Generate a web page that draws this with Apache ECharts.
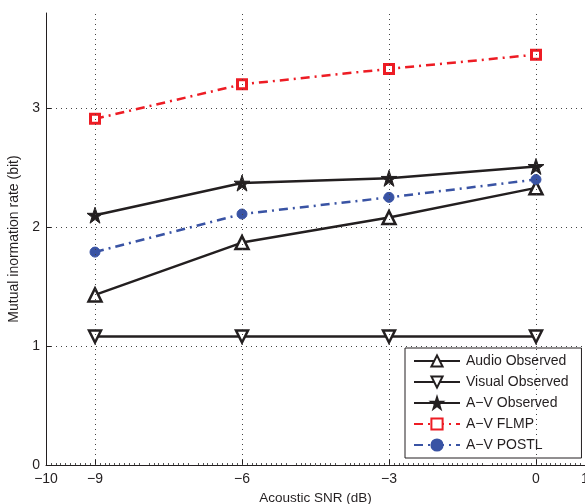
<!DOCTYPE html>
<html>
<head>
<meta charset="utf-8">
<script src="https://cdn.jsdelivr.net/npm/echarts@6/dist/echarts.min.js"></script>
<style>
html, body { margin: 0; padding: 0; background: #fff; }
#chart { width: 585px; height: 504px; }
</style>
</head>
<body>
<div id="chart"></div>
<script>
// data
var snr = [-9, -6, -3, 0];
var audioObs = [1.43, 1.87, 2.08, 2.33];
var visualObs = [1.08, 1.08, 1.08, 1.08];
var avObs = [2.10, 2.37, 2.41, 2.51];
var avFlmp = [2.91, 3.20, 3.33, 3.45];
var avPostl = [1.79, 2.11, 2.25, 2.40];
var xTicks = [-10, -9, -6, -3, 0, 1];
var xGrid = [-9, -6, -3, 0];
var yTicks = [0, 1, 2, 3];

var black = '#231f20';
var red = '#ed1c24';
var blue = '#3953a4';
var star = 'path://M50,0 L61.8,35.1 L98.9,35.1 L68.9,56.7 L80.2,91.9 L50,70.1 L19.8,91.9 L31.1,56.7 L1.1,35.1 L38.2,35.1 Z';

function pts(arr) {
     var out = [];
     for (var i = 0; i < snr.length; i++) {
          out.push([snr[i], arr[i]]);
     }
     return out;
}
function minus(v) {
     return String(v).replace('-', '\u2212');
}

var chart = echarts.init(document.getElementById('chart'));
var font = 'Liberation Sans, Arial, sans-serif';
var dotted = { color: '#444', type: [1, 4], width: 1 };

// vertical grid lines only at the labelled SNR values
var vLines = [];
for (var k = 0; k < xGrid.length; k++) {
     vLines.push({ xAxis: xGrid[k] });
}

var option = {
     animation: false,
     grid: { left: 46, right: 0, top: 13, bottom: 39, containLabel: false, outerBoundsMode: 'none' },
     legend: {
          orient: 'vertical',
          left: 405,
          top: 348,
          padding: [6, 13, 6, 8],
          itemGap: 7,
          itemWidth: 46,
          itemHeight: 14,
          borderColor: black,
          borderWidth: 1,
          backgroundColor: '#fff',
          textStyle: { fontFamily: font, fontSize: 14, color: black, padding: [0, 0, 0, 1] },
          data: ['Audio Observed', 'Visual Observed', 'A\u2212V Observed', 'A\u2212V FLMP', 'A\u2212V POSTL']
     },
     xAxis: {
          type: 'value',
          min: -10,
          max: 1,
          interval: 1,
          name: 'Acoustic SNR (dB)',
          nameLocation: 'middle',
          nameGap: 19,
          nameTextStyle: { fontFamily: font, fontSize: 13.5, color: black },
          axisLine: { onZero: false, lineStyle: { color: black, width: 1 } },
          axisTick: { inside: true, length: 5, customValues: xTicks, lineStyle: { color: black } },
          minorTick: { show: true, splitNumber: 10, length: 2, lineStyle: { color: '#555' } },
          axisLabel: {
               customValues: xTicks,
               fontFamily: font, fontSize: 14, color: black, margin: 7,
               formatter: function (v) { return minus(v); }
          },
          splitLine: { show: false }
     },
     yAxis: {
          type: 'value',
          min: 0,
          max: 3.8,
          interval: 1,
          name: 'Mutual inormation rate (bit)',
          nameLocation: 'middle',
          nameGap: 22,
          nameTextStyle: { fontFamily: font, fontSize: 14, color: black },
          axisLine: { show: true, onZero: false, lineStyle: { color: black, width: 1 } },
          axisTick: { show: true, inside: true, length: 5, customValues: yTicks, lineStyle: { color: black } },
          axisLabel: { customValues: yTicks, fontFamily: font, fontSize: 14, color: black, margin: 6 },
          splitLine: { show: true, lineStyle: dotted }
     },
     series: [
          {
               name: 'grid', type: 'line', data: [], z: 0, silent: true,
               markLine: {
                    silent: true, symbol: 'none', label: { show: false },
                    lineStyle: dotted, data: vLines
               }
          },
          {
               name: 'Audio Observed', type: 'line', data: pts(audioObs),
               symbol: 'triangle', symbolSize: 13,
               lineStyle: { color: black, width: 2.5 },
               itemStyle: { color: '#fff', borderColor: black, borderWidth: 2.5 }
          },
          {
               name: 'Visual Observed', type: 'line', data: pts(visualObs),
               symbol: 'triangle', symbolRotate: 180, symbolSize: 12,
               lineStyle: { color: black, width: 2.5 },
               itemStyle: { color: '#fff', borderColor: black, borderWidth: 2.5 }
          },
          {
               name: 'A\u2212V Observed', type: 'line', data: pts(avObs),
               symbol: star, symbolSize: 16,
               lineStyle: { color: black, width: 2.5 },
               itemStyle: { color: black, borderColor: black, borderWidth: 1 }
          },
          {
               name: 'A\u2212V FLMP', type: 'line', data: pts(avFlmp),
               symbol: 'rect', symbolSize: 9,
               lineStyle: { color: red, width: 2.5, type: [9, 5, 2, 5] },
               itemStyle: { color: '#fff', borderColor: red, borderWidth: 3 }
          },
          {
               name: 'A\u2212V POSTL', type: 'line', data: pts(avPostl),
               symbol: 'circle', symbolSize: 10,
               lineStyle: { color: blue, width: 2.5, type: [9, 5, 2, 5] },
               itemStyle: { color: blue, borderColor: blue, borderWidth: 1 }
          }
     ]
};

chart.setOption(option);
</script>
</body>
</html>
